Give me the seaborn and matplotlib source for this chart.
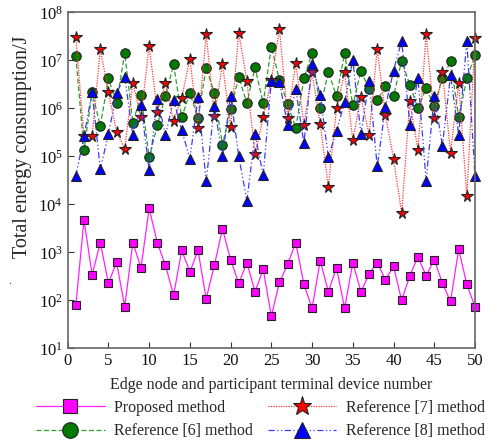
import matplotlib
matplotlib.use("Agg")
import matplotlib.pyplot as plt
import numpy as np
import pandas as pd
import seaborn as sns
from matplotlib.legend_handler import HandlerLine2D
from matplotlib.ticker import FixedLocator, FuncFormatter

# Device index and per-device total energy consumption (J)
device = list(range(1, 51))
proposed = [79, 4770, 342, 1600, 229, 622, 74, 1600, 479, 8250,
            1600, 535, 128, 1100, 393, 1100, 108, 535, 3090, 705,
            226, 603, 151, 445, 47, 237, 568, 1600, 216, 68,
            673, 151, 479, 68, 614, 151, 353, 614, 268, 511,
            100, 327, 809, 327, 705, 229, 95, 1155, 216, 74]
ref6 = [1.22e7, 1.36e5, 2.2e6, 4.3e5, 4.2e6, 1.3e6, 1.41e7, 5.0e5, 1.9e6, 9.5e4,
        4.4e5, 1.8e6, 8.2e6, 6.5e5, 2.1e6, 6.4e5, 7.0e6, 2.1e6, 1.73e5, 9.6e5,
        4.5e6, 1.28e6, 7.1e6, 1.28e6, 1.92e7, 3.9e6, 1.25e6, 3.9e5, 4.2e6, 1.43e7,
        1.0e6, 5.8e6, 1.77e6, 1.43e7, 1.15e6, 6.1e6, 2.5e6, 1.46e6, 2.9e6, 1.77e6,
        9.9e6, 3.1e6, 1.0e6, 2.6e6, 1.13e6, 4.2e6, 9.5e6, 6.5e5, 4.2e6, 1.28e7]
ref7 = [3.0e7, 2.6e5, 2.6e5, 1.72e7, 2.2e6, 3.2e5, 1.44e5, 3.4e6, 6.5e5, 2.0e7,
        8.6e5, 3.3e6, 5.4e5, 1.68e6, 1.08e7, 3.9e5, 3.6e7, 6.9e5, 8.5e6, 4.1e5,
        3.8e7, 3.7e6, 1.1e5, 6.5e5, 3.9e6, 4.5e7, 6.4e5, 8.7e6, 4.5e5, 5.6e6,
        4.7e5, 2.3e4, 1.0e6, 5.6e6, 2.2e5, 1.74e6, 2.8e5, 1.75e7, 7.4e5, 9.0e4,
        6.5e3, 1.39e6, 1.36e5, 3.55e7, 6.4e5, 5.8e6, 1.2e5, 3.4e6, 1.48e4, 2.9e7]
ref8 = [3.9e4, 2.6e5, 2.2e6, 5.4e4, 2.9e5, 2.1e6, 4.5e6, 2.8e5, 1.16e6, 5.2e4,
        1.6e6, 2.8e5, 1.5e6, 3.5e5, 8.9e4, 1.7e6, 3.0e4, 1.12e6, 1.0e5, 1.82e6,
        1.0e5, 1.2e4, 2.9e5, 4.0e4, 3.8e6, 3.5e6, 4.4e5, 2.5e6, 1.86e5, 8.3e6,
        1.9e6, 9.6e4, 3.4e5, 1.33e6, 1.03e7, 2.9e5, 3.7e6, 6.2e4, 1.05e6, 6.1e6,
        2.55e7, 4.6e5, 4.3e6, 3.1e4, 1.82e6, 1.68e5, 4.9e6, 2.8e5, 2.55e7, 3.9e4]

series_names = ["Proposed method", "Reference [6] method",
                "Reference [7] method", "Reference [8] method"]
x_ticks = [0, 5, 10, 15, 20, 25, 30, 35, 40, 45, 50]
y_exponents = [1, 2, 3, 4, 5, 6, 7, 8]

sns.set_style("ticks")
plt.rcParams["font.family"] = ["Liberation Serif", "DejaVu Serif"]
plt.rcParams["mathtext.fontset"] = "custom"
plt.rcParams["mathtext.rm"] = "Liberation Serif"
plt.rcParams["mathtext.default"] = "regular"

fig = plt.figure(figsize=(4.92, 4.41), dpi=100)
ax = fig.add_axes([0.1376, 0.210, 0.8278, 0.762])
ax.set_yscale("log")

styles = [
    dict(color="#ff22ff", marker="s", linestyle="-", markersize=6.3, linewidth=0.9,
         markerfacecolor="#ff00ff"),
    dict(color="#2e9e2e", marker="o", linestyle=(0, (4, 2)), markersize=6.8, linewidth=0.9,
         markerfacecolor="#007a00"),
    dict(color="#ff3333", marker="*", linestyle=(0, (1, 1)), markersize=8.5, linewidth=0.9,
         markerfacecolor="#ff0000"),
    dict(color="#3a3aff", marker="^", linestyle=(0, (5, 2, 1, 2, 1, 2)), markersize=6.6, linewidth=0.9,
         markerfacecolor="#0000ff"),
]

for name, values, st in zip(series_names, [proposed, ref6, ref7, ref8], styles):
    df = pd.DataFrame({"device": device, "energy": values})
    sns.lineplot(data=df, x="device", y="energy", ax=ax, label=name, clip_on=False,
                 markeredgecolor="#222222", markeredgewidth=0.8, **st)

ax.set_xlim(0, 50)
ax.set_ylim(10, 1e8)
ax.xaxis.set_major_locator(FixedLocator(x_ticks))
ax.yaxis.set_major_locator(FixedLocator([10.0 ** e for e in y_exponents]))
ax.yaxis.set_minor_locator(FixedLocator([]))
ax.yaxis.set_major_formatter(FuncFormatter(lambda v, p: r"$10^{%d}$" % round(np.log10(v))))
ax.tick_params(axis="both", direction="in", length=4, width=0.8, labelsize=12,
               colors="#333333", labelcolor="#111111")
ax.tick_params(axis="x", pad=3)
for side in ["left", "bottom", "top", "right"]:
    ax.spines[side].set_color("#666666")
    ax.spines[side].set_linewidth(1.2)

ax.set_xlabel("Edge node and participant terminal device number", fontsize=11.5, labelpad=6)
ax.set_ylabel("Total energy consumption/J", fontsize=14.5, ha="center", va="center")
ax.yaxis.set_label_coords(-0.112, 0.60)


class EndMarkerHandler(HandlerLine2D):
    """Legend handle with the marker placed at the right end of the line."""
    def get_xdata(self, legend, xdescent, ydescent, width, height, fontsize):
        xdata = [-xdescent, -xdescent + width]
        return xdata, [-xdescent + width - 0.12 * width]


handles, labels = ax.get_legend_handles_labels()
if ax.legend_:
    ax.legend_.remove()
leg = fig.legend(handles, labels, ncol=2, loc="upper left",
                 bbox_to_anchor=(36 / 492, 1 - 400 / 441),
                 frameon=False, fontsize=11.5, handlelength=4.3, handletextpad=0.6,
                 columnspacing=0.9, labelspacing=0.45, borderpad=0, borderaxespad=0,
                 markerscale=1.65,
                 handler_map={h: EndMarkerHandler() for h in handles})

fig.text(8 / 492, 1 - 284 / 441, ".", fontsize=8, color="#333333")

fig.savefig("out.png", dpi=100)
